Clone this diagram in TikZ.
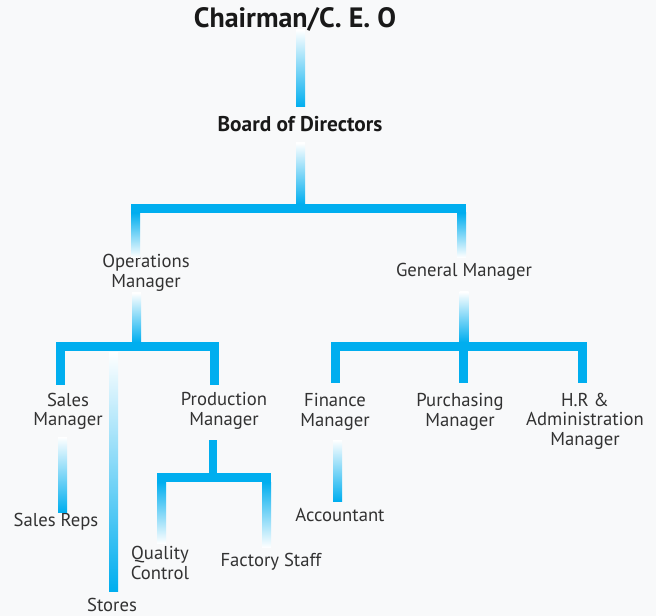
\documentclass[tikz,border=0pt]{standalone}
\usepackage{fontspec}
\setmainfont{PT Sans}
\usetikzlibrary{calc,positioning}
\definecolor{orgblue}{RGB}{0,174,239}
\definecolor{txtgray}{RGB}{50,50,50}
\definecolor{paper}{RGB}{248,249,250}

\begin{document}
\begin{tikzpicture}[x=0.75pt, y=-0.75pt, bar/.style={fill=orgblue}, fadein/.style={top color=white, bottom color=orgblue}, fadeout/.style={top color=orgblue, bottom color=white}]
    % Define styles for the heads and the job titles
    \tikzstyle{head} = [inner sep=0pt, text=black!90, font=\bfseries\fontsize{21}{23}\selectfont]
    \tikzstyle{job} = [inner sep=0pt, align=center, text=txtgray, font=\fontsize{14}{14.5}\selectfont]

    % Paper
    \fill[paper] (0,0) rectangle (656,616);

    % Nodes placement
    \node [head] (ceo) at (295,19) {Chairman/C. E. O};
    \node [head, font=\bfseries\fontsize{16}{18}\selectfont] (board) at (300,124) {Board of Directors};
    \node [job] (ops) at (146,273) {Operations\\Manager};
    \node [job] (gm) at (464,272) {General Manager};
    \node [job] (sales) at (68,411) {Sales\\Manager};
    \node [job] (prod) at (224,411) {Production\\Manager};
    \node [job] (fin) at (335,412) {Finance\\Manager};
    \node [job] (purch) at (460,412) {Purchasing\\Manager};
    \node [job] (hr) at (585,421) {H.R \&\\Administration\\Manager};
    \node [job] (reps) at (56,522) {Sales Reps};
    \node [job] (acct) at (340,515) {Accountant};
    \node [job] (qc) at (160,563) {Quality\\Control};
    \node [job] (staff) at (271,562) {Factory Staff};
    \node [job] (stores) at (112,605) {Stores};

    % Junction points
    \coordinate (ceoOut) at (300.5,30);
    \coordinate (boardIn) at (300.5,107);
    \coordinate (boardOut) at (300.5,143);
    \coordinate (boardBar) at (300.5,204);
    \coordinate (opsDrop) at (135.5,208.5);
    \coordinate (gmDrop) at (461.5,208.5);
    \coordinate (opsOut) at (136.5,293);
    \coordinate (opsBar) at (136.5,342);
    \coordinate (salesDrop) at (60.5,346.5);
    \coordinate (prodDrop) at (214.5,346.5);
    \coordinate (storesTop) at (113.5,352);
    \coordinate (storesIn) at (113.5,591);
    \coordinate (salesOut) at (62.5,437);
    \coordinate (repsIn) at (62.5,512);
    \coordinate (prodOut) at (213,440);
    \coordinate (qcDrop) at (161.5,477.5);
    \coordinate (staffDrop) at (266.5,477.5);
    \coordinate (gmOut) at (464,292);
    \coordinate (gmBar) at (464,342);
    \coordinate (finDrop) at (335.5,346.5);
    \coordinate (purchDrop) at (463.5,346.5);
    \coordinate (hrDrop) at (582.5,346.5);
    \coordinate (finOut) at (337.5,440);
    \coordinate (acctIn) at (337.5,501);

    % Top of the chart
    \shade[fadein] ($(ceoOut)+(-4.5,0)$) rectangle ($(boardIn)+(4.5,0)$);
    \shade[fadein] ($(boardOut)+(-4.5,0)$) rectangle ($(boardBar)+(4.5,0)$);
    \fill[bar] ($(opsDrop)+(-4.5,-4.5)$) rectangle ($(gmDrop)+(4.5,4.5)$);
    \shade[fadeout] ($(opsDrop)+(-4.5,4.5)$) rectangle ($(opsDrop)+(4.5,49)$);
    \shade[fadeout] ($(gmDrop)+(-4.5,4.5)$) rectangle ($(gmDrop)+(4.5,49)$);

    % Operations branch
    \shade[fadein] ($(opsOut)+(-4.5,0)$) rectangle ($(opsBar)+(4.5,0)$);
    \fill[bar] ($(salesDrop)+(-4.5,-4.5)$) rectangle ($(prodDrop)+(4.5,4.5)$);
    \fill[bar] ($(salesDrop)+(-4.5,0)$) rectangle ($(salesDrop)+(4.5,38)$);
    \fill[bar] ($(prodDrop)+(-4.5,0)$) rectangle ($(prodDrop)+(4.5,38)$);
    \shade[fadein] ($(storesTop)+(-4.5,0)$) rectangle ($(storesIn)+(4.5,0)$);
    \shade[fadein] ($(salesOut)+(-4.5,0)$) rectangle ($(repsIn)+(4.5,0)$);
    \fill[bar] ($(prodOut)+(-4,0)$) rectangle ($(prodOut)+(4,38)$);
    \fill[bar] ($(qcDrop)+(-4.5,-4.5)$) rectangle ($(staffDrop)+(4.5,4.5)$);
    \shade[fadeout] ($(qcDrop)+(-4.5,4.5)$) rectangle ($(qcDrop)+(4.5,66)$);
    \shade[fadeout] ($(staffDrop)+(-4.5,4.5)$) rectangle ($(staffDrop)+(4.5,70)$);

    % General manager branch
    \shade[fadein] ($(gmOut)+(-4.5,0)$) rectangle ($(gmBar)+(4.5,0)$);
    \fill[bar] ($(finDrop)+(-4.5,-4.5)$) rectangle ($(hrDrop)+(4.5,4.5)$);
    \foreach \drop in {finDrop, purchDrop, hrDrop}
        \fill[bar] ($(\drop)+(-4.5,0)$) rectangle ($(\drop)+(4.5,36.5)$);
    \shade[fadein] ($(finOut)+(-4.5,0)$) rectangle ($(acctIn)+(4.5,0)$);
\end{tikzpicture}
\end{document}
